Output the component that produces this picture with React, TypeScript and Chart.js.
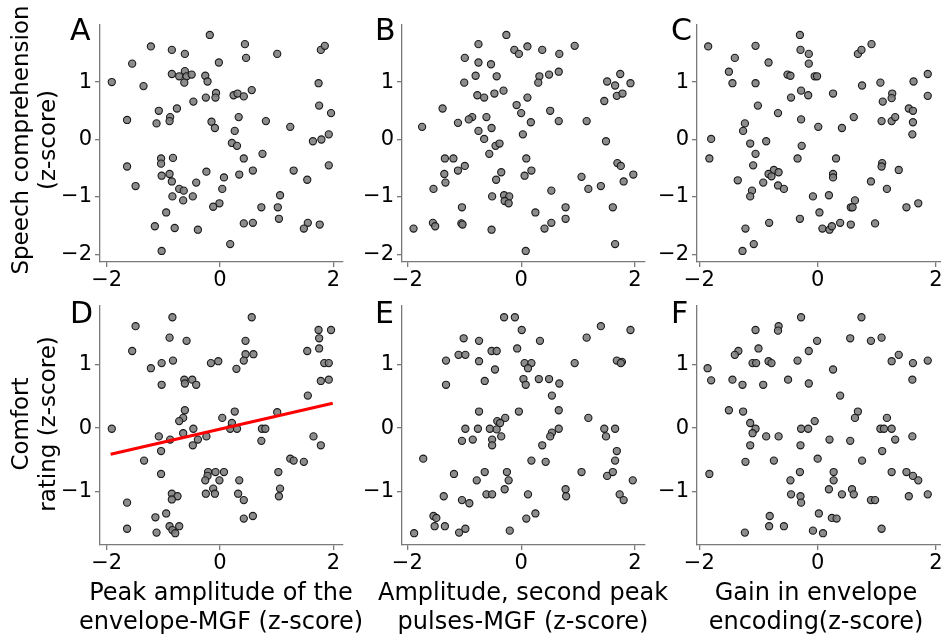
import React, { useEffect, useRef } from 'react';
import { Chart, registerables } from 'chart.js';

Chart.register(...registerables);

// ---------------- data ----------------
const xTicks = [-2, 0, 2];
const yTicksTop = [-2, -1, 0, 1];
const yTicksBottom = [-1, 0, 1];

const rowTitles = [
  ['Speech comprehension', '(z-score)'],
  ['Comfort', 'rating (z-score)'],
];
const colTitles = [
  ['Peak amplitude of the', 'envelope-MGF (z-score)'],
  ['Amplitude, second peak', 'pulses-MGF (z-score)'],
  ['Gain in envelope', 'encoding(z-score)'],
];
const panelLetters = ['A', 'B', 'C', 'D', 'E', 'F'];

const panelA: [number, number][] = [
  [-0.18,1.82],[-1.22,1.62],[-0.85,1.56],[-0.62,1.49],[0.44,1.66],[0.46,1.42],[1.01,1.49],[1.78,1.56],[1.85,1.63],
  [-1.55,1.32],[-0.02,1.34],[-0.85,1.14],[-0.72,1.10],[-0.62,1.19],[-0.59,1.10],[-0.50,1.13],[-0.63,0.99],[-0.26,1.11],
  [-0.22,1.01],[-1.91,1.00],[-1.35,0.93],[1.74,0.98],[0.56,0.86],[0.24,0.77],[0.31,0.80],[0.42,0.75],[-0.07,0.81],
  [-0.08,0.73],[-0.25,0.73],[-0.47,0.66],[-0.76,0.54],[-1.08,0.50],[-0.88,0.39],[-0.89,0.32],[-1.12,0.28],[-1.64,0.34],
  [1.75,0.59],[1.96,0.46],[0.33,0.39],[0.81,0.32],[1.24,0.22],[-0.15,0.31],[-0.09,0.20],[0.26,0.15],[0.21,-0.06],
  [0.30,-0.11],[1.64,-0.03],[1.79,0.00],[1.92,0.09],[0.75,-0.25],[0.42,-0.33],[-1.04,-0.33],[-1.04,-0.42],[-0.83,-0.32],
  [-1.64,-0.47],[1.92,-0.45],[0.58,-0.54],[0.34,-0.61],[1.30,-0.54],[1.54,-0.70],[-0.24,-0.56],[0.07,-0.66],[-1.03,-0.63],
  [-0.89,-0.60],[-0.85,-0.73],[-0.42,-0.75],[-1.49,-0.81],[-0.72,-0.86],[-0.64,-0.89],[0.04,-0.86],[-0.84,-0.99],[-0.65,-1.06],
  [-0.48,-0.99],[1.06,-0.97],[-0.01,-1.11],[-0.12,-1.17],[0.73,-1.18],[1.02,-1.18],[1.04,-1.38],[-0.95,-1.27],[0.42,-1.46],
  [0.58,-1.45],[1.55,-1.45],[1.48,-1.55],[1.76,-1.48],[-1.15,-1.51],[-0.80,-1.54],[-0.39,-1.57],[0.18,-1.82],[-1.03,-1.94],
];

const panelB: [number, number][] = [
  [-0.26,1.82],[-0.75,1.66],[-0.12,1.56],[-0.04,1.49],[0.11,1.62],[0.37,1.56],[0.67,1.49],[0.94,1.63],[-0.99,1.42],
  [-0.75,1.34],[-0.53,1.31],[-0.80,1.11],[-0.43,1.10],[-1.00,0.99],[0.32,1.10],[0.30,0.99],[0.49,1.13],[0.66,1.18],
  [1.74,1.14],[1.51,1.01],[1.65,0.94],[1.92,0.98],[1.68,0.76],[1.78,0.80],[1.46,0.67],[-0.77,0.77],[-0.65,0.73],
  [-0.47,0.80],[-0.31,0.85],[0.11,0.73],[-0.08,0.60],[0.00,0.46],[-1.38,0.54],[0.51,0.50],[0.17,0.30],[0.66,0.32],
  [1.15,0.32],[-0.86,0.39],[-0.92,0.35],[-1.11,0.29],[-0.61,0.39],[-0.75,0.15],[-0.52,0.20],[-0.65,0.01],[-1.74,0.22],
  [0.03,0.09],[-0.45,-0.11],[-0.38,-0.07],[-0.56,-0.25],[1.49,-0.03],[-1.34,-0.33],[-1.19,-0.33],[0.09,-0.33],[-0.99,-0.46],
  [-1.11,-0.54],[1.69,-0.41],[1.75,-0.46],[-0.35,-0.57],[0.18,-0.54],[0.06,-0.63],[-1.35,-0.60],[-1.33,-0.75],[-0.44,-0.70],
  [1.06,-0.65],[1.97,-0.61],[1.80,-0.73],[1.40,-0.81],[1.18,-0.86],[-1.54,-0.86],[0.53,-0.89],[-0.51,-0.99],[-0.30,-0.97],
  [-0.21,-0.99],[-0.29,-1.07],[-0.22,-1.11],[0.78,-1.18],[1.61,-1.18],[-1.04,-1.18],[0.25,-1.27],[0.78,-1.38],[0.53,-1.45],
  [0.41,-1.55],[-1.55,-1.45],[-1.51,-1.51],[-1.05,-1.46],[-1.03,-1.48],[-0.52,-1.57],[-1.89,-1.55],[0.08,-1.94],[1.65,-1.82],
];

const panelC: [number, number][] = [
  [-0.30,1.82],[-1.85,1.62],[-1.05,1.63],[-0.29,1.56],[-0.15,1.49],[-0.15,1.32],[0.68,1.49],[0.74,1.56],[0.91,1.66],
  [-1.40,1.42],[-0.83,1.34],[-1.50,1.18],[-1.44,0.98],[-1.05,0.98],[-0.51,1.13],[-0.46,1.11],[-0.05,1.10],[-0.01,1.10],
  [1.86,1.14],[1.62,1.01],[1.06,0.99],[0.75,0.94],[-0.28,0.85],[-0.16,0.77],[-0.45,0.73],[0.26,0.80],[1.26,0.80],
  [1.25,0.72],[1.10,0.66],[1.86,0.76],[-1.01,0.59],[-0.67,0.46],[1.54,0.54],[1.61,0.50],[1.61,0.30],[1.60,0.09],
  [0.61,0.39],[1.08,0.32],[1.25,0.32],[1.31,0.39],[-0.28,0.35],[-1.23,0.28],[-1.26,0.15],[0.01,0.22],[0.41,0.20],
  [-1.80,0.01],[-1.14,-0.07],[-0.87,-0.03],[-0.27,-0.11],[-1.05,-0.25],[-1.83,-0.33],[-0.34,-0.33],[0.31,-0.33],[-1.09,-0.45],
  [-0.74,-0.53],[-0.66,-0.57],[-0.83,-0.60],[-0.78,-0.64],[0.26,-0.60],[0.26,-0.66],[1.09,-0.41],[1.08,-0.47],[1.37,-0.53],
  [-1.35,-0.71],[-0.92,-0.75],[-0.67,-0.80],[-0.57,-0.86],[0.90,-0.73],[1.17,-0.86],[-1.11,-0.89],[-1.14,-0.99],[-0.08,-0.99],
  [0.19,-0.97],[0.63,-1.06],[0.56,-1.18],[0.59,-1.18],[1.70,-1.11],[1.50,-1.18],[0.03,-1.27],[-0.30,-1.38],[-0.82,-1.45],
  [0.38,-1.45],[0.56,-1.48],[0.97,-1.46],[0.08,-1.55],[0.20,-1.57],[0.24,-1.51],[-1.22,-1.55],[-1.08,-1.82],[-1.27,-1.94],
];

const panelD: [number, number][] = [
  [-0.84,1.74],[0.56,1.74],[-1.49,1.60],[1.74,1.54],[1.96,1.54],[1.75,1.41],[-0.89,1.42],[-0.59,1.37],[0.45,1.37],
  [1.75,1.25],[-1.55,1.21],[1.54,1.21],[0.45,1.16],[0.59,1.16],[0.42,1.06],[0.29,0.93],[-0.83,1.06],[-1.03,1.02],
  [-1.22,0.94],[-0.16,1.02],[-0.03,1.05],[1.84,1.02],[1.92,1.02],[-0.63,0.76],[-0.49,0.76],[-0.62,0.70],[-0.42,0.68],
  [-1.03,0.68],[1.78,0.74],[1.92,0.76],[1.55,0.51],[-0.62,0.28],[-0.65,0.16],[-0.72,0.11],[0.26,0.26],[0.04,0.16],
  [1.01,0.25],[0.21,0.08],[0.18,-0.01],[0.30,-0.01],[-1.91,-0.01],[-0.47,-0.01],[0.74,-0.01],[0.80,-0.01],[-0.65,-0.08],
  [-1.08,-0.13],[-0.88,-0.18],[-0.24,-0.13],[-0.39,-0.18],[-0.48,-0.27],[0.73,-0.20],[1.65,-0.13],[1.78,-0.27],[-1.04,-0.36],
  [-1.34,-0.51],[1.24,-0.48],[1.30,-0.51],[1.48,-0.53],[-1.04,-0.72],[-0.21,-0.69],[-0.08,-0.69],[0.07,-0.69],[-0.22,-0.75],
  [-0.26,-0.82],[-0.01,-0.82],[0.34,-0.82],[1.03,-0.69],[1.06,-0.95],[1.04,-1.07],[-0.12,-0.95],[-0.25,-1.03],[-0.09,-1.03],
  [0.32,-1.03],[0.42,-1.13],[-0.85,-1.03],[-0.75,-1.07],[-0.85,-1.12],[-1.64,-1.17],[-0.95,-1.34],[-1.14,-1.40],[0.42,-1.42],
  [0.58,-1.38],[-1.64,-1.58],[-0.89,-1.54],[-0.72,-1.54],[-0.84,-1.60],[-0.79,-1.65],[-1.12,-1.64],
];

const panelE: [number, number][] = [
  [-0.30,1.74],[-0.11,1.74],[1.40,1.60],[1.92,1.54],[0.01,1.54],[-1.01,1.41],[-0.74,1.37],[0.33,1.37],[1.15,1.42],
  [-0.07,1.25],[-0.52,1.21],[-0.43,1.21],[-1.10,1.15],[-0.98,1.15],[-1.32,1.06],[-0.74,1.05],[0.06,1.02],[0.18,1.02],
  [0.12,0.94],[0.94,1.02],[1.68,1.06],[1.77,1.04],[1.75,1.02],[-0.46,0.92],[-0.64,0.74],[0.04,0.77],[0.08,0.68],
  [0.31,0.77],[0.49,0.77],[0.67,0.70],[-1.32,0.68],[0.54,0.51],[-0.74,0.26],[-0.04,0.26],[0.66,0.28],[1.18,0.16],
  [-0.28,0.16],[-0.42,0.11],[-0.37,0.08],[-0.98,-0.01],[-0.76,-0.01],[-0.55,-0.01],[-0.43,-0.02],[0.66,-0.01],[1.46,-0.01],
  [1.65,-0.01],[0.54,-0.07],[0.51,-0.13],[1.49,-0.13],[-0.35,-0.13],[-1.04,-0.20],[-0.85,-0.18],[-0.51,-0.18],[-0.51,-0.27],
  [0.37,-0.27],[1.68,-0.36],[-1.72,-0.48],[0.18,-0.51],[0.43,-0.53],[1.65,-0.51],[-1.18,-0.72],[-0.64,-0.69],[-0.25,-0.69],
  [-0.22,-0.82],[-0.78,-0.82],[1.06,-0.69],[1.51,-0.75],[1.61,-0.69],[1.96,-0.82],[-0.29,-0.96],[-0.61,-1.04],[-0.51,-1.04],
  [0.12,-1.04],[0.78,-0.96],[0.79,-1.07],[1.73,-1.04],[1.80,-1.13],[-1.36,-1.07],[-1.04,-1.13],[-0.91,-1.18],[-1.54,-1.38],
  [-1.49,-1.41],[-1.52,-1.54],[-1.34,-1.54],[0.09,-1.42],[0.25,-1.34],[-1.09,-1.64],[-0.98,-1.58],[-0.20,-1.61],[-1.88,-1.65],
];

const panelF: [number, number][] = [
  [-0.28,1.74],[0.74,1.74],[-1.05,1.54],[-0.66,1.60],[-0.67,1.53],[0.55,1.41],[0.90,1.37],[1.08,1.42],[-0.01,1.37],
  [-1.00,1.25],[-1.34,1.21],[-1.40,1.15],[-0.15,1.21],[1.37,1.15],[-1.10,1.02],[-1.04,1.02],[-0.83,1.05],[-0.78,1.02],
  [-0.34,1.06],[1.25,1.05],[1.61,1.02],[1.86,1.06],[-1.86,0.94],[0.26,0.92],[-1.80,0.75],[-1.44,0.76],[-1.27,0.68],
  [-0.92,0.68],[-0.50,0.76],[-0.15,0.70],[1.60,0.76],[0.38,0.51],[-1.50,0.28],[-1.26,0.26],[0.68,0.26],[0.63,0.16],
  [1.17,0.16],[-0.05,0.11],[-1.14,0.08],[-1.05,-0.01],[-1.10,-0.08],[-0.28,-0.01],[-0.16,-0.01],[1.06,-0.01],[1.12,-0.01],
  [1.25,-0.01],[-0.87,-0.13],[-0.66,-0.13],[0.20,-0.18],[0.55,-0.20],[1.31,-0.18],[1.60,-0.13],[-1.14,-0.27],[-0.29,-0.27],
  [1.09,-0.36],[-1.22,-0.53],[-0.74,-0.51],[0.00,-0.48],[0.75,-0.51],[-1.83,-0.72],[-0.30,-0.69],[0.27,-0.69],[0.27,-0.82],
  [1.25,-0.69],[1.50,-0.69],[1.61,-0.75],[1.70,-0.82],[-0.46,-0.82],[-0.45,-1.04],[-0.29,-1.07],[-0.28,-1.17],[0.19,-0.96],
  [0.41,-1.04],[0.58,-0.96],[0.61,-1.04],[0.90,-1.13],[0.97,-1.13],[1.54,-1.07],[1.86,-1.04],[-0.81,-1.38],[0.02,-1.34],
  [0.24,-1.41],[0.32,-1.42],[-0.82,-1.54],[-0.57,-1.54],[-1.23,-1.64],[-0.08,-1.61],[0.09,-1.65],[1.08,-1.58],
];

// regression line in panel D
const fitX = [-1.93, 1.99];
const fitY = [-0.41, 0.39];

// ---------------- layout / style ----------------
const FONT = "'DejaVu Sans', 'Liberation Sans', sans-serif";
const YAXIS_W = 62;
const XAXIS_H = 40;
const PAD_T = 12;
const PAD_R = 12;
const SPINE = '#7a7a7a';

const cols = [
  { left: 100, width: 243, xMin: -2.118, xMax: 2.171, cx: 221 },
  { left: 402, width: 243, xMin: -2.093, xMax: 2.175, cx: 523 },
  { left: 697, width: 244, xMin: -2.039, xMax: 2.084, cx: 816 },
];
const rows = [
  { top: 21, height: 241, yMin: -2.132, yMax: 2.0, ticks: yTicksTop, cy: 140 },
  { top: 302, height: 243, yMin: -1.835, yMax: 1.923, ticks: yTicksBottom, cy: 424 },
];
const panelData = [panelA, panelB, panelC, panelD, panelE, panelF];

const fmt = (v: number) => (v < 0 ? '\u2212' + Math.abs(v) : String(v));

function Panel({ idx }: { idx: number }) {
  const ref = useRef<HTMLCanvasElement>(null);
  const col = cols[idx % 3];
  const row = rows[Math.floor(idx / 3)];
  const cw = YAXIS_W + col.width + PAD_R;
  const ch = PAD_T + row.height + XAXIS_H;

  useEffect(() => {
    if (!ref.current) return;
    const datasets: any[] = [
      {
        type: 'scatter',
        data: panelData[idx].map(([x, y]) => ({ x, y })),
        pointRadius: 3.6,
        pointBorderWidth: 1.1,
        pointBackgroundColor: 'rgba(128,128,128,0.9)',
        pointBorderColor: '#1a1a1a',
        order: 2,
      },
    ];
    if (idx === 3) {
      datasets.push({
        type: 'line',
        data: fitX.map((x, i) => ({ x, y: fitY[i] })),
        borderColor: '#ff0000',
        borderWidth: 3.2,
        pointRadius: 0,
        showLine: true,
        fill: false,
        order: 1,
      });
    }
    const axisCommon = {
      type: 'linear' as const,
      grid: {
        display: true,
        drawOnChartArea: false,
        drawTicks: true,
        tickLength: 5,
        color: SPINE,
        lineWidth: 1.3,
      },
      border: { display: true, color: SPINE, width: 1.3 },
    };
    const chart = new Chart(ref.current, {
      type: 'scatter',
      data: { datasets },
      options: {
        animation: false,
        responsive: false,
        maintainAspectRatio: false,
        layout: { padding: { left: 0, top: PAD_T, right: PAD_R, bottom: 0 } },
        plugins: { legend: { display: false }, tooltip: { enabled: false } },
        scales: {
          x: {
            ...axisCommon,
            position: 'bottom',
            min: col.xMin,
            max: col.xMax,
            afterBuildTicks: (ax: any) => {
              ax.ticks = xTicks.map((v) => ({ value: v }));
            },
            afterFit: (ax: any) => {
              ax.height = XAXIS_H;
            },
            ticks: {
              color: '#000',
              font: { family: FONT, size: 21 },
              padding: 1,
              maxRotation: 0,
              autoSkip: false,
              callback: (v: any) => fmt(Number(v)),
            },
          },
          y: {
            ...axisCommon,
            position: 'left',
            min: row.yMin,
            max: row.yMax,
            afterBuildTicks: (ax: any) => {
              ax.ticks = row.ticks.map((v) => ({ value: v }));
            },
            afterFit: (ax: any) => {
              ax.width = YAXIS_W;
            },
            ticks: {
              color: '#000',
              font: { family: FONT, size: 21 },
              padding: 3,
              autoSkip: false,
              callback: (v: any) => fmt(Number(v)),
            },
          },
        },
      } as any,
    });
    return () => chart.destroy();
  }, [idx]);

  return (
    <canvas
      ref={ref}
      width={cw}
      height={ch}
      style={{
        position: 'absolute',
        left: col.left - YAXIS_W,
        top: row.top - PAD_T,
        width: cw,
        height: ch,
      }}
    />
  );
}

const letterLeft = [70, 375, 671];
const letterTop = [15, 298];

export default function App() {
  return (
    <div
      style={{
        position: 'fixed',
        left: 0,
        top: 0,
        width: 941,
        height: 634,
        overflow: 'hidden',
        background: '#fff',
        fontFamily: FONT,
        color: '#000',
      }}
    >
      {panelLetters.map((_, i) => (
        <Panel key={'p' + i} idx={i} />
      ))}
      {panelLetters.map((L, i) => (
        <div
          key={'l' + i}
          style={{
            position: 'absolute',
            left: letterLeft[i % 3],
            top: letterTop[Math.floor(i / 3)],
            fontSize: 30,
            lineHeight: '30px',
            whiteSpace: 'nowrap',
          }}
        >
          {L}
        </div>
      ))}
      {rowTitles.map((lines, r) => (
        <div
          key={'r' + r}
          style={{
            position: 'absolute',
            left: 34,
            top: rows[r].cy,
            transform: 'translate(-50%, -50%) rotate(-90deg)',
            fontSize: 23,
            lineHeight: '27px',
            whiteSpace: 'nowrap',
            textAlign: 'center',
          }}
        >
          {lines[0]}
          <br />
          {lines[1]}
        </div>
      ))}
      {colTitles.map((lines, c) => (
        <div
          key={'c' + c}
          style={{
            position: 'absolute',
            left: cols[c].cx,
            top: 578,
            transform: 'translateX(-50%)',
            fontSize: 24,
            lineHeight: '29px',
            whiteSpace: 'nowrap',
            textAlign: 'center',
          }}
        >
          {lines[0]}
          <br />
          {lines[1]}
        </div>
      ))}
    </div>
  );
}
